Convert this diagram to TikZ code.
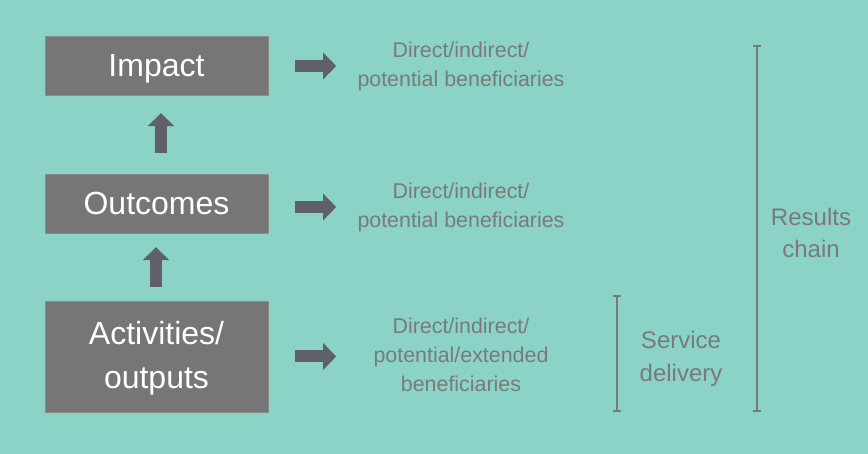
\documentclass[tikz,border=0pt]{standalone}
\usepackage{fontspec}
\setmainfont{Liberation Sans}
\usepackage{xcolor}
\usepackage{tikz}
\usetikzlibrary{arrows.meta}
\definecolor{bgteal}{RGB}{138, 211, 198}
\definecolor{boxgray}{RGB}{118, 118, 118}
\definecolor{arrowgray}{RGB}{96, 97, 104}
\definecolor{labelgray}{RGB}{122, 122, 122}

\begin{document}
\begin{tikzpicture}[x=1pt, y=-1pt,
    levelbox/.style={draw=boxgray!85!white, fill=boxgray, text=white, minimum width=223pt, text depth=0pt, align=center, font=\fontsize{32}{44}\selectfont},
    fatarrow/.style={arrowgray, line width=12pt, -{Triangle[width=26pt, length=13pt]}},
    benefit/.style={text=labelgray, align=center, font=\fontsize{21.4}{29}\selectfont},
    sidelabel/.style={text=labelgray, align=center, font=\fontsize{24}{32.5}\selectfont},
    bracket/.style={labelgray, line width=1.6pt, {Bar[width=8pt]}-{Bar[width=8pt]}}]
    \fill[bgteal] (0,0) rectangle (868,454);
    \useasboundingbox (0,0) rectangle (868,454);
    % result levels
    \node[levelbox, minimum height=59pt] (impact) at (156.5,65.5) {Impact};
    \node[levelbox, minimum height=59pt] (outcomes) at (156.5,203.5) {Outcomes};
    \node[levelbox, minimum height=111pt, text depth=4pt] (activities) at (156.5,356.5) {Activities/\\outputs};
    % upward arrows
    \draw[fatarrow] ([xshift=4.5pt, yshift=21pt]outcomes.north) -- ([xshift=4.5pt, yshift=-18pt]impact.south);
    \draw[fatarrow] ([xshift=-0.5pt, yshift=14pt]activities.north) -- ([xshift=-0.5pt, yshift=-14pt]outcomes.south);
    % beneficiaries
    \node[benefit] (ben1) at (461,66) {Direct/indirect/\\potential beneficiaries};
    \node[benefit] (ben2) at (461,207.5) {Direct/indirect/\\potential beneficiaries};
    \node[benefit] (ben3) at (461,355) {Direct/indirect/\\potential/extended\\beneficiaries};
    \draw[fatarrow] ([xshift=27pt, yshift=-0.5pt]impact.east) -- ++(41pt,0);
    \draw[fatarrow] ([xshift=27pt, yshift=-3.5pt]outcomes.east) -- ++(41pt,0);
    \draw[fatarrow] ([xshift=27pt]activities.east) -- ++(41pt,0);
    % brackets
    \coordinate (svctop) at (617,295);
    \coordinate (svcbot) at (617,412);
    \coordinate (restop) at (757,45);
    \coordinate (resbot) at (757,412);
    \draw[bracket] (svctop) -- (svcbot);
    \draw[bracket] (restop) -- (resbot);
    \node[sidelabel] (service) at (681,359) {Service\\delivery};
    \node[sidelabel] (results) at (811,233) {Results\\chain};
\end{tikzpicture}
\end{document}
